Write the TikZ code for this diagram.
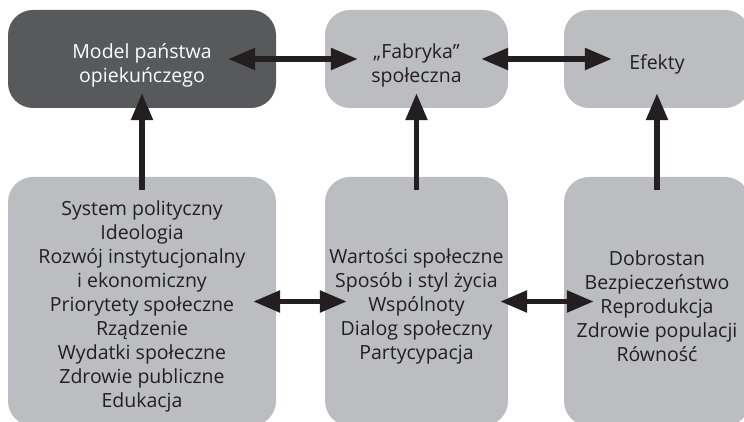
\documentclass[tikz,border=0pt]{standalone}
\usepackage{fontspec}
\setmainfont{Open Sans}
\usetikzlibrary{arrows.meta,positioning}
\definecolor{boxdark}{HTML}{58595B}
\definecolor{boxlight}{HTML}{BCBDC0}
\definecolor{inkdark}{HTML}{231F20}
\tikzset{
	box/.style={rounded corners=25pt, fill=boxlight, inner sep=0pt},
	boxtext/.style={text=inkdark, align=center, inner sep=0pt, font=\fontsize{19.5}{24}\selectfont},
	toprow/.style={minimum height=98pt},
	botrow/.style={minimum height=249pt},
	bothead/.style={line width=5.5pt, draw=inkdark, {Triangle[length=27pt,width=21pt]}-{Triangle[length=27pt,width=21pt]}},
	uphead/.style={line width=5.5pt, draw=inkdark, -{Triangle[length=27pt,width=21pt]}}
}
\begin{document}
\begin{tikzpicture}[x=1pt, y=1pt]
	\useasboundingbox (0,0) rectangle (744,422);
	\clip (0,0) rectangle (744,422);
	
	%top row
	\node[box, toprow, fill=boxdark, minimum width=268pt] (model) at (142,363) {};
	\node[box, toprow, minimum width=183pt] (fabryka) at (416.5,363) {};
	\node[box, toprow, minimum width=186pt] (efekty) at (657,363) {};
	\node[boxtext, text=white] (model-t) at ([yshift=-6pt]model.center) {Model państwa\\opiekuńczego};
	\node[boxtext] (fabryka-t) at ([yshift=-6pt]fabryka.center) {„Fabryka”\\społeczna};
	\node[boxtext] (efekty-t) at ([yshift=-5pt]efekty.center) {Efekty};
	
	%bottom row
	\node[box, botrow, minimum width=268pt] (czynniki) at (142,120.5) {};
	\node[box, botrow, minimum width=183pt] (wartosci) at (416.5,120.5) {};
	\node[box, botrow, minimum width=186pt] (dobrostan) at (657,120.5) {};
	\node[boxtext] (czynniki-t) at ([yshift=-5pt]czynniki.center) {System polityczny\\Ideologia\\Rozwój instytucjonalny\\i ekonomiczny\\Priorytety społeczne\\Rządzenie\\Wydatki społeczne\\Zdrowie publiczne\\Edukacja};
	\node[boxtext] (wartosci-t) at ([yshift=-5pt]wartosci.center) {Wartości społeczne\\Sposób i styl życia\\Wspólnoty\\Dialog społeczny\\Partycypacja};
	\node[boxtext] (dobrostan-t) at ([yshift=-5pt]dobrostan.center) {Dobrostan\\Bezpieczeństwo\\Reprodukcja\\Zdrowie populacji\\Równość};
	
	%horizontal arrows
	\draw[bothead] ([xshift=-48pt]model.east) -- ([xshift=33pt]fabryka.west);
	\draw[bothead] ([xshift=-27pt]fabryka.east) -- ([xshift=48pt]efekty.west);
	\draw[bothead] ([xshift=-23pt]czynniki.east) -- ([xshift=22pt]wartosci.west);
	\draw[bothead] ([xshift=-8pt]wartosci.east) -- ([xshift=30pt]dobrostan.west);
	
	%vertical arrows
	\draw[uphead] ([yshift=-13pt]czynniki.north) -- ([yshift=15pt]model.south);
	\draw[uphead] ([yshift=-13pt]wartosci.north) -- ([yshift=15pt]fabryka.south);
	\draw[uphead] ([yshift=-13pt]dobrostan.north) -- ([yshift=15pt]efekty.south);
\end{tikzpicture}
\end{document}
